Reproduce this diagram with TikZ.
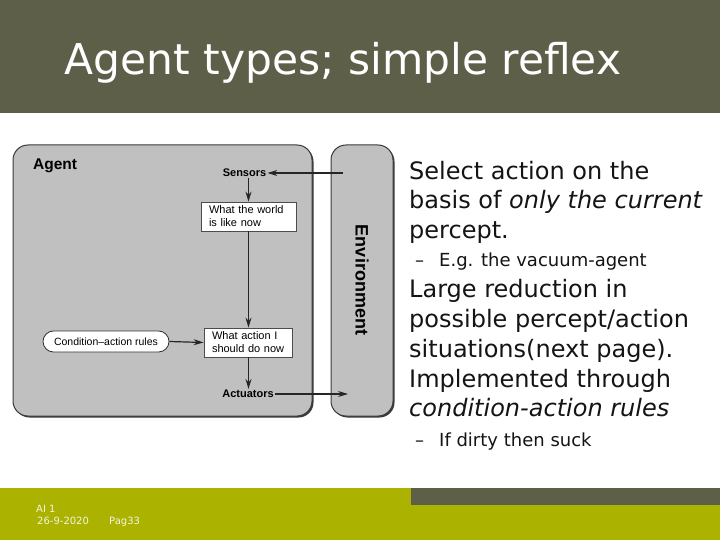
\documentclass[tikz,border=0pt]{standalone}
\usepackage{fontspec}
\setmainfont{DejaVu Sans}
\newfontfamily\arialf{Liberation Sans}
\usetikzlibrary{arrows.meta}
\definecolor{hdr}{HTML}{5E5F49}
\definecolor{grn}{HTML}{ABB200}
\definecolor{boxgray}{HTML}{C0C0C0}
\definecolor{edgec}{HTML}{3A3A3A}
\definecolor{txt}{HTML}{141414}
\definecolor{foot}{HTML}{F4F4E0}
\tikzset{
  panel/.style={fill=boxgray, draw=edgec, line width=1pt, rounded corners=15pt},
  panelshadow/.style={fill=edgec, rounded corners=15pt},
  rectbox/.style={draw=black!70, fill=white, line width=0.8pt, inner xsep=8pt, inner ysep=0pt,
    minimum height=29pt, align=left, font=\arialf\fontsize{11}{13}\selectfont},
  pill/.style={draw=black!80, fill=white, line width=0.8pt, rounded corners=10.5pt,
    minimum width=126pt, minimum height=21pt, inner sep=0pt, font=\arialf\fontsize{10.5}{12}\selectfont},
  lbl/.style={font=\arialf\bfseries\fontsize{11}{13}\selectfont, inner sep=1pt},
  conn/.style={draw=black!85, line width=1.2pt, -{Stealth[length=10pt,width=6pt]}},
  bigtxt/.style={anchor=base west, inner sep=0pt, text=txt, font=\fontsize{24}{29}\selectfont},
  subtxt/.style={anchor=base west, inner sep=0pt, text=txt, font=\fontsize{18}{22}\selectfont},
  foottxt/.style={anchor=base west, inner sep=0pt, text=foot, font=\fontsize{10}{12}\selectfont}
}
\begin{document}
\begin{tikzpicture}[x=1pt,y=-1pt]
\useasboundingbox (0,0) rectangle (720,540);
\fill[white] (0,0) rectangle (720,540);
% header
\fill[hdr] (0,0) rectangle (720,113);
\node[anchor=base west, inner sep=0pt, text=white, font=\fontsize{42.4}{50}\selectfont] (title) at (64.5,75) {Agent types; simple reflex};
% footer
\fill[grn] (0,488) rectangle (720,540);
\fill[hdr] (411,488) rectangle (720,505);
\node[foottxt] (f1) at (36,512) {AI 1};
\node[foottxt] (f2) at (37,524) {26-9-2020};
\node[foottxt] (f3) at (109,524) {Pag33};
% panels
\fill[panelshadow] (14.5,146.5) rectangle (313.5,417.5);
\draw[panel] (13,145) rectangle (312,416);
\fill[panelshadow] (332.5,146.5) rectangle (394.5,417.5);
\draw[panel] (331,145) rectangle (393,416);
\node[anchor=base west, inner sep=0pt, font=\arialf\bfseries\fontsize{15.5}{18}\selectfont] (agent) at (33,170) {Agent};
\node[rotate=-90, inner sep=0pt, font=\arialf\bfseries\fontsize{18}{20}\selectfont] (env) at (362,280) {Environment};
% diagram nodes
\node[lbl] (sensors) at (244.5,173) {Sensors};
\node[rectbox, text width=79pt] (wtw) at (248.5,216.5) {What the world\\is like now};
\node[rectbox, text width=72pt] (wa) at (248,342.5) {\mbox{What action I}\\\mbox{should do now}};
\node[pill] (car) at (106,341.5) {Condition–action rules};
\node[lbl] (act) at (248,394) {Actuators};
\coordinate (envin) at (343,173);
\coordinate (envout) at (348,394);
% connectors
\draw[conn] (envin) -- (sensors.east);
\draw[conn] (wtw.north |- sensors.south) -- (wtw.north);
\draw[conn] (wtw.south) -- (wtw.south |- wa.north);
\draw[conn] (car.east) -- (wa.west);
\draw[conn] (wtw.south |- wa.south) -- (wtw.south |- act.north);
\draw[conn] (act.east) -- (envout);
% right text
\node[bigtxt] (l1) at (409,180) {Select action on the};
\node[bigtxt] (l2) at (409,208.5) {basis of \textit{only the current}};
\node[bigtxt] (l3) at (409,238) {percept.};
\node[subtxt] (d1) at (415,266) {–};
\node[subtxt] (s1) at (439,266) {E.g. the vacuum-agent};
\node[bigtxt] (l4) at (409,297) {Large reduction in};
\node[bigtxt] (l5) at (409,327) {possible percept/action};
\node[bigtxt] (l6) at (409,357) {situations(next page).};
\node[bigtxt] (l7) at (409,387) {Implemented through};
\node[bigtxt] (l8) at (409,416.5) {\textit{condition-action rules}};
\node[subtxt] (d2) at (415,446) {–};
\node[subtxt] (s2) at (439,446) {If dirty then suck};
\end{tikzpicture}
\end{document}
